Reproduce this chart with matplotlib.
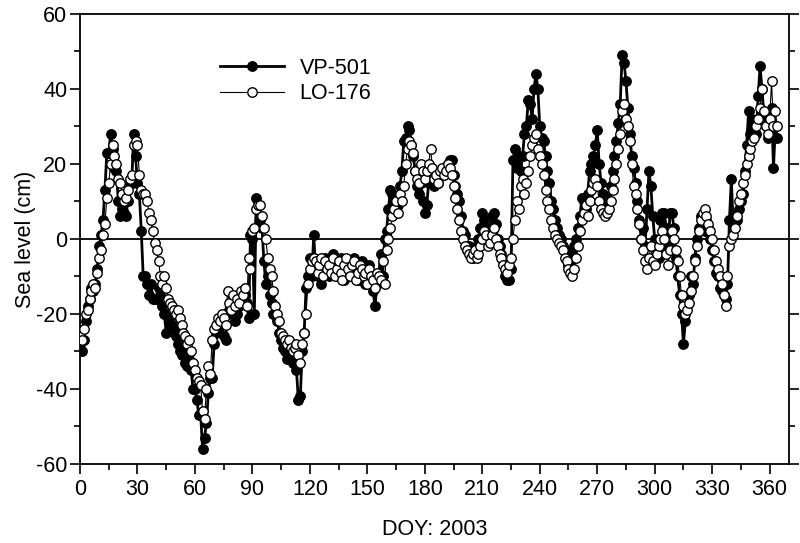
import numpy as np
import matplotlib.pyplot as plt
from matplotlib.ticker import MultipleLocator

# Daily sea level (cm), DOY 0..364
vp501 = [
    -28, -30, -27, -22, -18, -16, -13, -14, -12, -8,
    -2, 1, 5, 13, 23, 23, 28, 24, 19, 18,
    10, 6, 8, 7, 6, 10, 15, 15, 28, 22,
    15, 12, 2, -10, -10, -12, -15, -12, -16, -16,
    -16, -13, -15, -18, -20, -25, -20, -21, -23, -24,
    -26, -28, -30, -31, -30, -33, -34, -32, -35, -40,
    -40, -43, -47, -47, -56, -53, -49, -41, -37, -37,
    -28, -25, -24, -22, -22, -26, -27, -20, -19, -18,
    -20, -22, -20, -18, -17, -16, -15, -17, -21, 1,
    0, -20, 11, 9, 5, 3, -6, -12, -10, -15,
    -17, -20, -20, -22, -25, -27, -29, -30, -32, -31,
    -32, -33, -32, -35, -43, -42, -30, -25, -13, -10,
    -5, -10, 1, -8, -10, -6, -12, -7, -5, -9,
    -10, -6, -4, -8, -10, -7, -5, -9, -11, -8,
    -6, -10, -9, -5, -7, -11, -9, -6, -8, -12,
    -10, -7, -9, -14, -18, -12, -9, -4, -10, 0,
    2, 8, 13, 12, 10, 11, 9, 14, 18, 26,
    27, 30, 29, 25, 22, 18, 14, 12, 15, 10,
    7, 9, 15, 18, 17, 14, 16, 15, 18, 17,
    18, 19, 20, 21, 21, 17, 14, 12, 10, 6,
    2, 1, -3, -2, -4, -5, -3, -2, 0, 3,
    7, 5, 2, -1, 3, 6, 7, 4, 0, -2,
    -4, -6, -10, -11, -11, -8, 21, 24, 19, 22,
    18, 22, 28, 30, 37, 36, 32, 40, 44, 40,
    30, 27, 26, 22, 18, 15, 10, 8, 5, 3,
    1, 0, -2, -3, -5, -7, -6, -4, -2, 0,
    3, 6, 11, 10, 8, 12, 18, 20, 22, 25,
    29, 20, 15, 12, 10, 9, 10, 14, 18, 22,
    26, 31, 36, 49, 47, 42, 35, 28, 22, 19,
    15, 10, 5, 0, 3, -2, 8, 18, 14, 6,
    0, -3, -5, 5, 7, 7, 3, -2, 7, 7,
    3, -5, -10, -15, -20, -28, -22, -18, -15, -10,
    -12, -5, 0, 3, 6, 4, 2, 5, 3, 0,
    -3, -6, -9, -10, -13, -14, -15, -16, -12, 5,
    16, 3, 6, 5, 8, 10, 12, 18, 25, 34,
    28, 32, 30, 28, 38, 46, 40, 33, 30, 27,
    32, 35, 19, 30, 27,
]

lo176 = [
    -25, -27, -24, -20, -19, -16, -14, -12, -13, -9,
    -5, -3, 1, 4, 11, 15, 20, 25, 22, 20,
    16, 15, 12, 10, 11, 13, 16, 17, 25, 26,
    25, 17, 13, 12, 12, 10, 7, 5, 2, -1,
    -3, -6, -10, -12, -10, -13, -16, -17, -18, -19,
    -20, -19, -21, -23, -25, -26, -28, -27, -30, -33,
    -35, -37, -38, -39, -46, -48, -40, -34, -36, -27,
    -24, -23, -21, -22, -20, -21, -23, -14, -17, -19,
    -15, -18, -16, -17, -14, -15, -13, -18, -5, -8,
    2, 3, 8, 9, 9, 6, 3, 0, -5, -8,
    -10, -14, -18, -20, -22, -25, -26, -27, -28, -27,
    -29, -30, -29, -28, -31, -33, -28, -25, -20, -12,
    -8, -6, -5, -6, -9, -7, -5, -10, -6, -8,
    -7, -9, -5, -10, -8, -6, -9, -11, -7, -5,
    -8, -10, -7, -6, -11, -9, -7, -8, -10, -9,
    -12, -8, -10, -11, -13, -9, -10, -11, -6, -12,
    -3, 0, 3, 6, 8, 10, 7, 12, 10, 14,
    20, 24, 26, 25, 23, 18, 16, 15, 20, 18,
    16, 18, 20, 24, 19, 16, 17, 15, 18, 19,
    17, 18, 20, 19, 17, 14, 11, 8, 5, 2,
    0, -2, -3, -4, -5, -4, -3, -5, -4, -2,
    0, 2, 1, -2, -1, 1, 3, 0, -2, -4,
    -5, -7, -8, -9, -7, -5, 0, 5, 10, 8,
    14, 16, 12, 15, 18, 22, 25, 27, 28, 24,
    22, 20, 17, 13, 10, 8, 5, 3, 1, 0,
    -1, -2, -3, -5, -6, -8, -9, -10, -8, -5,
    -2, 2, 5, 7, 9, 6, 10, 13, 15, 16,
    14, 10, 8, 7, 6, 7, 8, 10, 13, 16,
    20, 24, 28, 34, 36, 32, 30, 26, 20, 14,
    12, 8, 4, 0, -3, -6, -8, -5, -2, -6,
    -7, -4, -2, 0, 2, 0, -4, -7, -3, 2,
    0, -3, -6, -10, -15, -18, -20, -19, -17, -14,
    -10, -6, -2, 2, 5, 7, 8, 6, 4, 2,
    0, -3, -6, -8, -10, -12, -15, -18, -10, -2,
    0, 1, 3, 6, 10, 12, 15, 17, 20, 22,
    24, 26, 27, 30, 32, 35, 40, 34, 30, 28,
    32, 42, 30, 34, 30,
]

doy = np.arange(len(vp501))

plt.rcParams['font.family'] = ['Liberation Sans', 'DejaVu Sans']
plt.rcParams['axes.unicode_minus'] = False

fig = plt.figure(figsize=(8, 5.43), dpi=100)
ax = fig.add_axes([0.1, 0.1455, 0.886, 0.829])

ax.axhline(0, color='black', lw=1.3, zorder=1)
ax.plot(doy, vp501, '-o', color='black', lw=2.0, ms=6.8,
        mfc='black', mec='black', label='VP-501', zorder=2)
ax.plot(doy, lo176, '-o', color='black', lw=0.8, ms=6.8,
        mfc='white', mec='black', mew=1.0, label='LO-176', zorder=3)

ax.set_xlim(0, 370)
ax.set_ylim(-60, 60)
ax.xaxis.set_major_locator(MultipleLocator(30))
ax.xaxis.set_minor_locator(MultipleLocator(15))
ax.yaxis.set_major_locator(MultipleLocator(20))
ax.yaxis.set_minor_locator(MultipleLocator(10))
ax.tick_params(which='major', direction='out', length=7, width=1.2,
               labelsize=15.5, right=True, top=False)
ax.tick_params(which='minor', direction='out', length=4, width=1.2,
               right=True, top=False)
ax.tick_params(axis='y', which='major', pad=2)
for s in ax.spines.values():
    s.set_linewidth(1.3)

ax.set_xlabel('DOY: 2003', fontsize=15.5, labelpad=14)
ax.set_ylabel('Sea level (cm)', fontsize=15.5, labelpad=0)

ax.legend(loc='upper left', bbox_to_anchor=(0.17, 0.945), frameon=False,
          fontsize=15.5, handlelength=3.0, labelspacing=0.2, handletextpad=0.7)

plt.savefig('out.png', dpi=100)
